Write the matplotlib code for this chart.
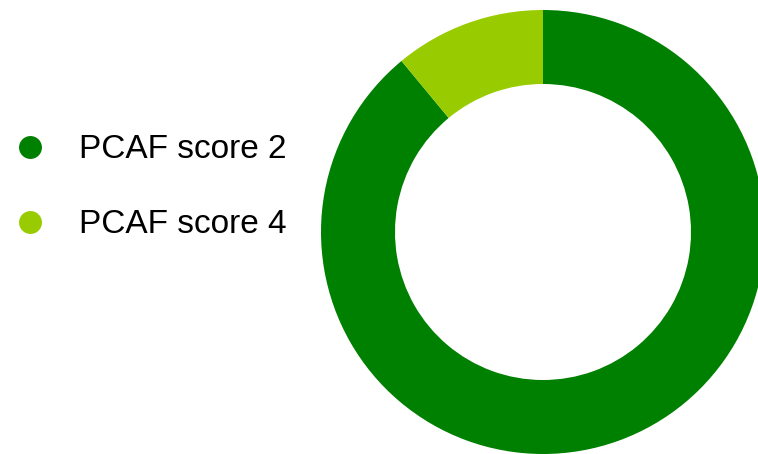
import matplotlib.pyplot as plt
from matplotlib.lines import Line2D

# Anteil der Portfolios je PCAF-Datenqualitätsstufe
labels = ["PCAF score 2", "PCAF score 4"]
shares = [89, 11]
colors = ["#008000", "#99cc00"]

W, H = 758, 454
fig = plt.figure(figsize=(W / 100, H / 100), dpi=100)

# Donut: Mittelpunkt bei (543, 232) px, Radius 222 px
cx, cy, r = 543, 232, 222
ax = fig.add_axes([(cx - r) / W, (H - cy - r) / H, 2 * r / W, 2 * r / H])
ax.pie(shares, colors=colors, startangle=90, counterclock=False,
       radius=1.0, wedgeprops=dict(width=1 - 148 / 222, edgecolor="none"))
ax.set_xlim(-1, 1)
ax.set_ylim(-1, 1)
ax.set_aspect("equal")
ax.axis("off")

# Legende mit runden Markern
handles = [Line2D([], [], linestyle="none", marker="o", markersize=16.5,
                  markerfacecolor=c, markeredgecolor="none") for c in colors]
fig.legend(handles, labels, loc="center left",
           bbox_to_anchor=(14 / W, 1 - 187.5 / H), frameon=False,
           prop=dict(family="Liberation Sans", size=24),
           handlelength=0.96, handletextpad=1.0, labelspacing=1.32,
           borderpad=0, borderaxespad=0)

fig.savefig("out.png", dpi=100)
